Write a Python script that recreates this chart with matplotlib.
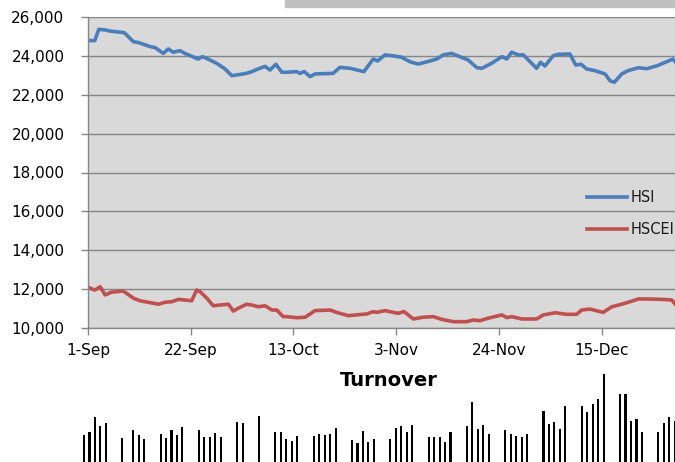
import matplotlib
matplotlib.use("Agg")
import matplotlib.pyplot as plt
from matplotlib.patches import Rectangle
import numpy as np

# ---- data (days counted from 1-Sep) ----
hsi_days = [0, 1.4, 2.2, 3.5, 4.5, 7.4, 9.3, 10.3, 12.7, 13.7, 15.4, 16.4, 17.4, 18.8, 19.8,
            22.5, 23.4, 24.6, 26.3, 28.0, 29.4, 30.7, 32.4, 33.5, 34.8, 36.2, 37.2, 38.4, 39.6,
            40.6, 42.7, 43.3, 44.2, 45.4, 46.4, 50.1, 51.5, 53.6, 56.4, 58.3, 59.2, 60.7, 62.8,
            64.1, 65.8, 67.5, 69.2, 71.3, 72.6, 74.3, 76.0, 77.7, 79.5, 80.5, 82.5, 84.6, 85.6,
            86.6, 88.0, 89.0, 91.7, 92.5, 93.4, 95.1, 96.1, 98.5, 99.7, 100.8, 101.9, 103.6,
            105.7, 106.7, 107.6, 109.1, 110.4, 112.5, 114.2, 116.3, 118.0, 119.6, 120.4]
hsi_vals = [24800, 24800, 25380, 25350, 25290, 25210, 24740, 24700, 24490, 24440, 24140, 24370,
            24200, 24280, 24140, 23850, 23970, 23840, 23630, 23340, 22990, 23040, 23110, 23200,
            23340, 23470, 23280, 23580, 23170, 23165, 23200, 23110, 23200, 22940, 23080, 23110,
            23420, 23370, 23200, 23850, 23750, 24060, 24000, 23940, 23710, 23590, 23700, 23850,
            24060, 24140, 23970, 23800, 23400, 23370, 23630, 23970, 23850, 24200, 24060, 24060,
            23370, 23680, 23490, 24020, 24090, 24110, 23540, 23580, 23340, 23250, 23080, 22730,
            22650, 23080, 23250, 23400, 23350, 23500, 23680, 23850, 23600]

hscei_days = [0, 1.4, 2.5, 3.5, 4.8, 7.2, 9.3, 10.6, 14.4, 15.7, 17.1, 18.5, 21.2, 22.2, 22.9,
              24.3, 25.6, 27.0, 28.7, 29.7, 30.7, 32.4, 33.5, 34.8, 36.2, 37.6, 38.6, 39.9,
              40.6, 42.7, 44.4, 46.4, 49.5, 50.8, 53.2, 57.0, 58.3, 59.0, 60.7, 63.4, 64.6,
              66.5, 68.5, 70.6, 72.3, 74.7, 77.4, 78.8, 80.1, 81.8, 84.6, 85.6, 86.6, 88.7,
              91.7, 93.1, 95.5, 97.8, 99.9, 100.9, 102.6, 105.3, 107.1, 109.1, 110.8, 112.5,
              114.5, 117.3, 119.3, 120.4]
hscei_vals = [12080, 11940, 12110, 11690, 11830, 11890, 11520, 11390, 11210, 11310, 11340, 11460,
              11390, 11940, 11860, 11520, 11130, 11170, 11210, 10860, 11000, 11210, 11170, 11080,
              11130, 10910, 10910, 10570, 10570, 10515, 10540, 10880, 10910, 10790, 10620, 10710,
              10830, 10790, 10880, 10740, 10830, 10450, 10540, 10570, 10430, 10310, 10310, 10400,
              10360, 10490, 10660, 10520, 10570, 10450, 10450, 10660, 10770, 10690, 10690, 10910,
              10960, 10790, 11080, 11210, 11340, 11480, 11480, 11460, 11430, 11100]

turnover_days = [0, 1, 2, 3, 4, 7, 9, 10, 11, 14, 15, 16, 17, 18, 21, 22, 23, 24, 25,
                 28, 29, 32, 35, 36, 37, 38, 39, 42, 43, 44, 45, 46, 49, 50, 51, 52, 53,
                 56, 57, 58, 59, 60, 63, 64, 65, 66, 67, 70, 71, 72, 73, 74, 77, 78, 79, 80, 81,
                 84, 85, 86, 87, 88, 91, 92, 93, 94, 95, 98, 99, 100, 101, 102, 105, 106, 107, 108]
turnover_vals = [27, 30, 45, 36, 39, 24, 32, 27, 23, 28, 24, 32, 27, 35, 32, 25, 25, 29, 25,
                 40, 39, 46, 30, 30, 23, 21, 26, 26, 28, 27, 28, 34, 22, 19, 31, 20, 23,
                 23, 34, 36, 30, 37, 25, 25, 25, 20, 30, 36, 60, 33, 37, 28, 32, 28, 26, 25, 28,
                 51, 38, 40, 33, 56, 56, 50, 58, 63, 88, 68, 68, 41, 43, 30, 30, 39, 45, 41]

xtick_days = [0, 21, 42, 63, 84, 105]
xtick_labels = ["1-Sep", "22-Sep", "13-Oct", "3-Nov", "24-Nov", "15-Dec"]
ytick_vals = list(range(10000, 26001, 2000))

W, H = 675, 462
fig = plt.figure(figsize=(W / 100, H / 100), dpi=100)
fig.patch.set_facecolor("white")

# grey strip at top
fig.patches.append(Rectangle((285 / W, 1 - 7 / H), 390 / W, 7 / H,
                             transform=fig.transFigure, color="#c0c0c0", zorder=0))

# ---- main index chart ----
ax = fig.add_axes([88 / W, 1 - 327.7 / H, (W - 88) / W, (327.7 - 17.3) / H])
ax.set_facecolor("#d9d9d9")
ax.plot(hsi_days, hsi_vals, color="#4a7ebb", lw=2.6, label="HSI", solid_joinstyle="round")
ax.plot(hscei_days, hscei_vals, color="#c0504d", lw=2.6, label="HSCEI", solid_joinstyle="round")
ax.set_xlim(0, (W - 88) / 4.892)
ax.set_ylim(10000, 26000)
ax.set_yticks(ytick_vals)
ax.set_yticklabels([f"{v:,}" for v in ytick_vals])
ax.set_xticks(xtick_days)
ax.set_xticklabels(xtick_labels)
ax.grid(axis="y", color="#868686", lw=1.0)
ax.set_axisbelow(True)
for s in ["top", "right"]:
    ax.spines[s].set_visible(False)
for s in ["left", "bottom"]:
    ax.spines[s].set_color("#868686")
    ax.spines[s].set_linewidth(1.0)
ax.tick_params(axis="y", length=5, width=1, color="#868686", pad=12,
               labelsize=11, labelcolor="black")
ax.tick_params(axis="x", length=5, width=1, color="#868686", pad=6,
               labelsize=11, labelcolor="black")

ax.legend(loc="upper left", bbox_to_anchor=(587 / W, 1 - 190 / H),
          bbox_transform=fig.transFigure, frameon=False, fontsize=10.5,
          handlelength=2.75, handletextpad=0.25, labelspacing=1.15,
          borderpad=0, borderaxespad=0, labelcolor="#1a1a1a")

# ---- turnover bars ----
ax2 = fig.add_axes([0, 0, 1, (H - 368) / H])
ax2.bar(turnover_days, turnover_vals, width=0.38, color="black")
ax2.set_xlim(-84 / 5.47, (W - 84) / 5.47)
ax2.set_ylim(0, 94)
ax2.axis("off")
fig.text(389 / W, 1 - 381 / H, "Turnover", ha="center", va="center",
         fontsize=14, fontweight="bold", color="black")

fig.savefig("out.png", dpi=100)
